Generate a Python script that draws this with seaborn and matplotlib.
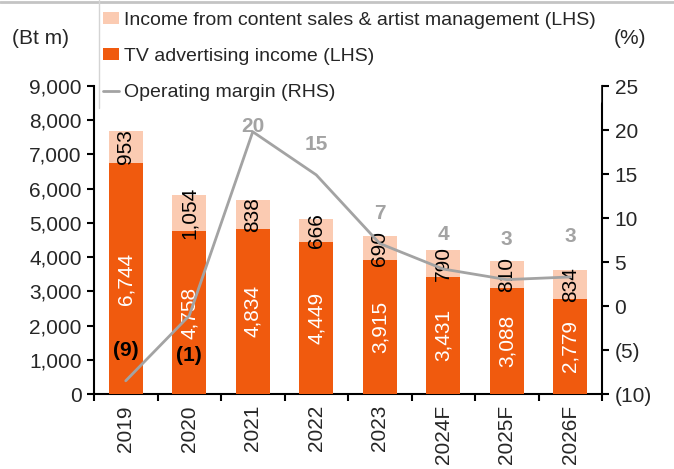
import numpy as np
import pandas as pd
import matplotlib
matplotlib.use("Agg")
import matplotlib.pyplot as plt
import seaborn as sns
from matplotlib.lines import Line2D
from matplotlib.patches import Patch
from matplotlib.ticker import FuncFormatter, MultipleLocator, FixedLocator

years = ["2019", "2020", "2021", "2022", "2023", "2024F", "2025F", "2026F"]
tv_income = [6744, 4758, 4834, 4449, 3915, 3431, 3088, 2779]
content_income = [953, 1054, 838, 666, 690, 790, 810, 834]
op_margin = [-8.5, -1.1, 19.8, 14.9, 7.1, 4.2, 3.0, 3.3]
margin_labels = ["(9)", "(1)", "20", "15", "7", "4", "3", "3"]

DARK = "#F05A0E"
LIGHT = "#FBCBB2"
GREY = "#A3A3A3"
FS = 15

sns.set_theme(style="white")
plt.rcParams["font.family"] = ["Liberation Sans", "DejaVu Sans"]

df = pd.DataFrame({"year": years, "tv": tv_income, "content": content_income})
df["total"] = df["tv"] + df["content"]

fig = plt.figure(figsize=(6.74, 4.69), dpi=100)
ax = fig.add_axes([94 / 674, 1 - 394 / 469, (602 - 94) / 674, (394 - 86) / 469])

sns.barplot(data=df, x="year", y="total", color=LIGHT, width=0.53, ax=ax,
            saturation=1, linewidth=0, zorder=2)
sns.barplot(data=df, x="year", y="tv", color=DARK, width=0.53, ax=ax,
            saturation=1, linewidth=0, zorder=3)

x = np.arange(len(years))
for i in range(len(years)):
    ax.text(x[i], tv_income[i] / 2, f"{tv_income[i]:,}", rotation=90, color="white",
            ha="center", va="center", fontsize=FS, zorder=4)
    ax.text(x[i], tv_income[i] + content_income[i] / 2, f"{content_income[i]:,}",
            rotation=90, color="black", ha="center", va="center", fontsize=FS, zorder=4)

ax.set_xlim(-0.5, len(years) - 0.5)
ax.set_ylim(0, 9000)
ax.yaxis.set_major_locator(MultipleLocator(1000))
ax.yaxis.set_major_formatter(FuncFormatter(lambda v, p: f"{int(v):,}"))
ax.set_xlabel("")
ax.set_ylabel("")
ax.set_xticks(x)
ax.set_xticklabels(years, rotation=90, fontsize=FS)
ax.xaxis.set_minor_locator(FixedLocator(np.arange(-0.5, len(years), 1.0)))
ax.tick_params(axis="x", which="major", length=0, pad=8)
ax.tick_params(axis="x", which="minor", length=5, width=1.5, direction="out", color="black", bottom=True)
ax.tick_params(axis="y", which="major", length=5, width=1.5, direction="out", color="black",
               left=True, labelsize=FS, pad=4)
for s in ["top", "right"]:
    ax.spines[s].set_visible(False)
for s in ["left", "bottom"]:
    ax.spines[s].set_color("black")
    ax.spines[s].set_linewidth(1.5)

ax2 = ax.twinx()
sns.lineplot(x=x, y=op_margin, ax=ax2, color=GREY, linewidth=2, sort=False, zorder=5)
ax2.set_ylim(-10, 25)
ax2.yaxis.set_major_locator(MultipleLocator(5))
ax2.yaxis.set_major_formatter(FuncFormatter(lambda v, p: f"({abs(int(v))})" if v < 0 else f"{int(v)}"))
ax2.tick_params(axis="y", which="major", length=5, width=1.5, direction="out", color="black",
                right=True, labelsize=FS, pad=4)
for s in ["top", "left", "bottom"]:
    ax2.spines[s].set_visible(False)
ax2.spines["right"].set_color("black")
ax2.spines["right"].set_linewidth(1.5)
ax2.set_ylabel("")

offsets_px = [30, -40, 5, 30, 30, 35, 40, 40]
label_colors = ["black", "black", GREY, GREY, GREY, GREY, GREY, GREY]
for i in range(len(years)):
    ax2.annotate(margin_labels[i], (x[i], op_margin[i]), xytext=(0, offsets_px[i] * 0.72),
                 textcoords="offset points", ha="center", va="center", fontsize=FS,
                 fontweight="bold", color=label_colors[i], zorder=6)

fig.text(40 / 674, 1 - 38 / 469, "(Bt m)", ha="center", va="center", fontsize=FS)
fig.text(630 / 674, 1 - 38 / 469, "(%)", ha="center", va="center", fontsize=FS)

handles = [Patch(facecolor=LIGHT, edgecolor="none"),
           Patch(facecolor=DARK, edgecolor="none"),
           Line2D([0], [0], color=GREY, linewidth=2)]
labels = ["Income from content sales & artist management (LHS)",
          "TV advertising income (LHS)",
          "Operating margin (RHS)"]
leg = fig.legend(handles, labels, loc="upper left", bbox_to_anchor=(99 / 674, 1 - 8 / 469),
                 frameon=True, fontsize=14, labelspacing=0.98, handlelength=0.85,
                 handleheight=0.55, handletextpad=0.25, borderpad=0.2, borderaxespad=0)
leg.get_frame().set_facecolor("white")
leg.get_frame().set_edgecolor("white")
leg.get_frame().set_alpha(1)
leg.set_zorder(10)

fig.add_artist(Line2D([0, 1], [1 - 2.5 / 469, 1 - 2.5 / 469], transform=fig.transFigure,
                      color="#C4C4C4", linewidth=2, zorder=20))
fig.add_artist(Line2D([99 / 674, 99 / 674], [1, 1 - 108 / 469], transform=fig.transFigure,
                      color="#D4D4D4", linewidth=1, zorder=20))

fig.savefig("out.png", dpi=100)
